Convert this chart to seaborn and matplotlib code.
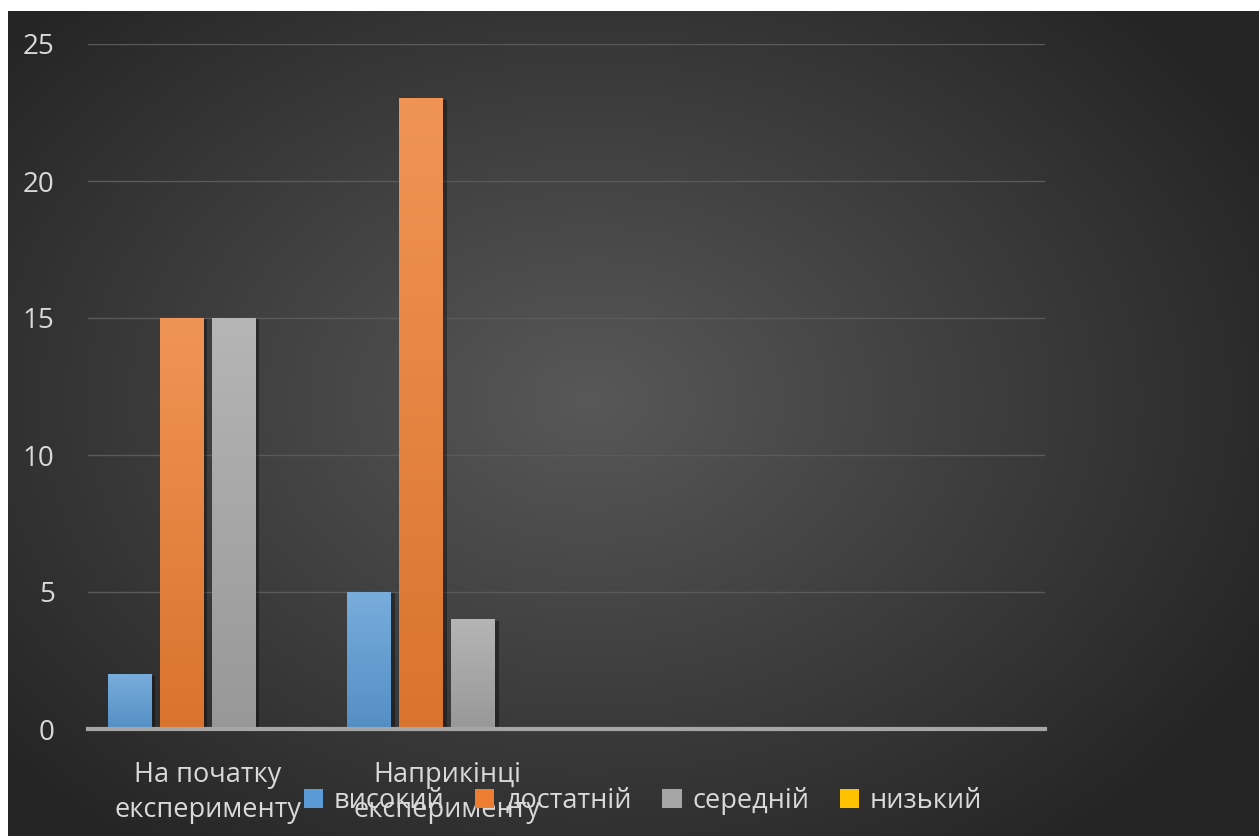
import numpy as np
import pandas as pd
import matplotlib
matplotlib.use("Agg")
import matplotlib.pyplot as plt
import seaborn as sns
from matplotlib.colors import LinearSegmentedColormap, to_rgb
from matplotlib import patheffects as pe

# ---- data ----
categories = ["На початку\nексперименту", "Наприкінці\nексперименту"]
slots = categories + ["", " "]
series = ["високий", "достатній", "середній", "низький"]
high = [2, 5]
sufficient = [15, 23]
medium = [15, 4]
low = [0, 0]
yticks = [0, 5, 10, 15, 20, 25]
colors = ["#5b9bd5", "#ed7d31", "#a5a5a5", "#ffc000"]

rows = []
for s, vals in zip(series, [high, sufficient, medium, low]):
    for c, v in zip(categories, vals):
        rows.append({"cat": c, "level": s, "value": v})
df = pd.DataFrame(rows)

plt.rcParams["font.family"] = ["Open Sans", "DejaVu Sans"]
txt = "#d9d9d9"

W, H = 1259, 836
fig = plt.figure(figsize=(W / 100, H / 100), dpi=100)
fig.patch.set_facecolor("white")

# background radial gradient
bg = fig.add_axes([0, 0, 1, 1], zorder=-10)
yy, xx = np.mgrid[0:H, 0:W]
cx, cy, rx, ry = 590, 400, 760, 560
d = np.sqrt(((xx - cx) / rx) ** 2 + ((yy - cy) / ry) ** 2)
d = np.clip(d, 0, 1)
c0 = np.array(to_rgb("#585858"))
c1 = np.array(to_rgb("#252525"))
img = c0[None, None, :] * (1 - d[..., None]) + c1[None, None, :] * d[..., None]
img[:11, :, :] = 1.0
img[:, :8, :] = 1.0
bg.imshow(img, extent=[0, W, H, 0], aspect="auto", interpolation="bilinear")
bg.set_xlim(0, W); bg.set_ylim(H, 0)
bg.axis("off")

ax = fig.add_axes([88 / W, (H - 729) / H, (1045 - 88) / W, (729 - 44) / H])
ax.set_facecolor("none")

sns.barplot(data=df, x="cat", y="value", hue="level", order=slots,
            hue_order=series, palette=colors, width=0.87, gap=0.17,
            saturation=1, ax=ax, legend=False, errorbar=None)

# gradient fills for bars
def shade(c, f):
    c = np.array(to_rgb(c))
    if f > 0:
        return tuple(c + (1 - c) * f)
    return tuple(c * (1 + f))

for cont, col in zip(ax.containers, colors):
    cmap = LinearSegmentedColormap.from_list("g", [shade(col, -0.08), shade(col, 0.18)])
    for bar in cont:
        h = bar.get_height()
        if not np.isfinite(h) or h <= 0:
            continue
        x0 = bar.get_x(); w = bar.get_width()
        bar.set_path_effects([pe.SimplePatchShadow(offset=(3, -1), shadow_rgbFace="black", alpha=0.35), pe.Normal()])
        grad = np.linspace(0, 1, 256).reshape(-1, 1)
        ax.imshow(grad, extent=[x0, x0 + w, 0, h], origin="lower", cmap=cmap,
                  aspect="auto", zorder=bar.get_zorder() + 0.1, interpolation="bilinear")

ax.set_xlim(-0.5, 3.5)
ax.set_ylim(0, 25)
ax.set_aspect("auto")

ax.set_yticks(yticks)
ax.yaxis.grid(True, color="#5a5a5a", linewidth=1)
ax.xaxis.grid(False)
ax.set_axisbelow(True)
for sp in ["left", "right", "top"]:
    ax.spines[sp].set_visible(False)
ax.spines["bottom"].set_color("#a6a6a6")
ax.spines["bottom"].set_linewidth(3)
ax.spines["bottom"].set_zorder(5)
ax.tick_params(axis="y", length=0, pad=24, labelsize=20, labelcolor=txt)
ax.tick_params(axis="x", length=0, pad=23, labelsize=19.5, labelcolor=txt)
ax.set_xticks(range(len(slots)))
ax.set_xticklabels(slots, linespacing=1.35)
ax.set_xlabel("")
ax.set_ylabel("")

handles = [plt.Rectangle((0, 0), 1, 1, facecolor=c, edgecolor="none") for c in colors]
leg = fig.legend(handles, series, loc="center", bbox_to_anchor=(643 / W, (H - 801) / H),
                 ncol=4, frameon=False, fontsize=19.5, labelcolor=txt,
                 handlelength=0.72, handleheight=0.72, handletextpad=0.4,
                 columnspacing=1.12)

fig.savefig("out.png", dpi=100)
